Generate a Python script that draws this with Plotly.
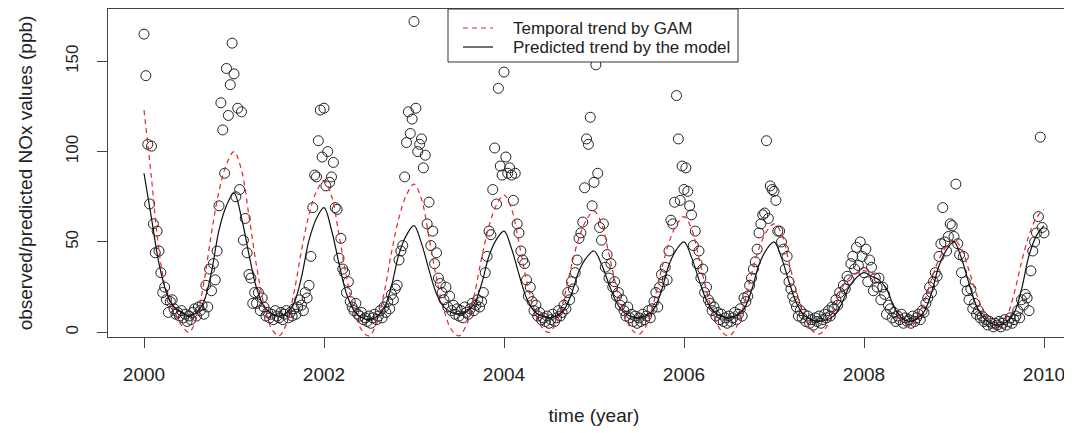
import plotly.graph_objects as go

# ---- observed NOx values (ppb), 48 samples per year ----
obs_2000 = [165, 142, 104, 71, 103, 60, 44, 56, 45, 33, 22, 25,
            18, 11, 17, 18, 13, 10, 11, 9, 12, 8, 10, 6,
            9, 7, 11, 13, 9, 14, 12, 15, 10, 26, 14, 35,
            23, 38, 29, 45, 70, 127, 112, 88, 146, 120, 137, 160]
obs_2001 = [143, 75, 124, 79, 122, 51, 63, 44, 32, 30, 16, 22,
            16, 22, 12, 19, 14, 9, 11, 8, 10, 7, 12, 9,
            8, 11, 7, 10, 12, 8, 11, 9, 13, 10, 14, 18,
            15, 12, 22, 19, 26, 42, 69, 87, 86, 106, 123, 97]
obs_2002 = [124, 81, 100, 83, 86, 94, 69, 68, 41, 52, 35, 33,
            22, 28, 17, 14, 12, 16, 10, 9, 11, 7, 8, 6,
            9, 5, 8, 10, 7, 9, 12, 8, 14, 11, 17, 13,
            21, 18, 24, 26, 40, 45, 48, 86, 105, 122, 110, 118]
obs_2003 = [172, 124, 100, 104, 107, 91, 98, 60, 72, 48, 56, 38,
            44, 30, 27, 22, 18, 25, 14, 20, 12, 15, 10, 13,
            9, 12, 8, 14, 11, 10, 13, 16, 12, 15, 18, 14,
            17, 22, 33, 42, 56, 54, 79, 102, 71, 135, 92, 87]
obs_2004 = [144, 97, 88, 91, 87, 73, 88, 60, 55, 45, 40, 38,
            29, 20, 25, 17, 12, 15, 9, 11, 7, 8, 6, 9,
            5, 7, 10, 6, 8, 12, 9, 11, 15, 13, 22, 18,
            28, 24, 33, 40, 52, 55, 61, 80, 107, 104, 119, 70]
obs_2005 = [83, 148, 88, 58, 51, 60, 36, 43, 30, 38, 25, 28,
            20, 22, 15, 18, 12, 9, 14, 8, 10, 6, 9, 5,
            8, 6, 10, 7, 9, 12, 8, 13, 17, 22, 14, 25,
            32, 28, 36, 29, 45, 62, 60, 72, 131, 107, 73, 92]
obs_2006 = [79, 91, 78, 70, 65, 48, 56, 38, 45, 30, 35, 22,
            25, 18, 16, 12, 14, 9, 11, 7, 10, 6, 8, 5,
            9, 6, 8, 11, 7, 10, 13, 9, 19, 17, 20, 26,
            30, 35, 39, 46, 55, 60, 65, 66, 106, 63, 81, 79]
obs_2007 = [78, 73, 56, 56, 50, 46, 35, 42, 28, 24, 20, 17,
            14, 9, 12, 8, 10, 6, 9, 5, 7, 4, 8, 6,
            9, 5, 7, 10, 8, 12, 9, 14, 13, 18, 15, 22,
            20, 26, 24, 31, 29, 38, 42, 35, 47, 37, 50, 42]
obs_2008 = [33, 46, 28, 40, 36, 23, 30, 25, 30, 18, 25, 21,
            10, 15, 13, 8, 11, 6, 9, 7, 10, 5, 8, 6,
            7, 5, 9, 6, 8, 10, 7, 12, 11, 16, 19, 25,
            22, 28, 33, 31, 42, 49, 69, 50, 45, 53, 60, 59]
obs_2009 = [53, 82, 49, 43, 33, 42, 28, 23, 18, 24, 13, 16,
            10, 12, 8, 9, 6, 7, 4, 6, 5, 3, 5, 4,
            6, 3, 5, 7, 4, 6, 8, 5, 7, 9, 12, 8,
            18, 15, 21, 19, 12, 34, 45, 50, 55, 64, 108, 58]
obs_2010 = [55]

observed = (obs_2000 + obs_2001 + obs_2002 + obs_2003 + obs_2004 +
            obs_2005 + obs_2006 + obs_2007 + obs_2008 + obs_2009 + obs_2010)
obs_time = [2000 + i / 48 for i in range(len(observed))]

# ---- monthly trend curves ----
month_time = [2000 + k / 12 for k in range(121)]
gam_trend = [
    123, 85, 45, 22, 12, 4, 0, 8, 28, 55, 78, 93,
    100, 89.8, 64.3, 36.8, 15.3, 2.1, -2, 4.9, 22.1, 45.3, 65.1, 78,
    84, 75.4, 53.9, 30.7, 12.6, 1.4, -2, 4.7, 21.5, 44.2, 63.5, 76.1,
    82, 73.6, 52.6, 29.9, 12.3, 1.4, -2, 4.2, 19.8, 40.9, 58.8, 70.5,
    76, 68.4, 49.4, 28.9, 12.9, 3, 0, 5.4, 18.8, 36.9, 52.3, 62.3,
    67, 60.2, 43.2, 24.8, 10.6, 1.7, -1, 4.2, 17.2, 34.8, 49.7, 59.5,
    64, 57.4, 40.9, 23.1, 9.2, 0.6, -2, 3, 15.4, 32.1, 46.4, 55.7,
    60, 54.8, 38.7, 22.2, 9.4, 1.4, -1, 3, 12, 24, 30, 33,
    34, 33, 29, 24, 14, 7, 3, 6.8, 16.4, 29.4, 40.4, 47.6,
    51, 46.2, 34.2, 21.2, 11.2, 4.9, 3, 8.2, 21.2, 38.8, 53.7, 63.5,
    68]
model_trend = [
    88, 63, 38, 22, 14, 11, 9, 11, 17.2, 33.5, 56.6, 70.2,
    77, 63.4, 43, 24.6, 14.4, 10.4, 9, 10.8, 16.2, 30.6, 51, 63,
    69, 56.6, 38, 21.3, 12, 8.2, 7, 8.6, 13.2, 25.7, 43.4, 53.8,
    59, 49.2, 34.5, 21.3, 13.9, 11, 10, 11.4, 15.5, 26.6, 42.2, 51.4,
    56, 46.4, 32, 19, 11.8, 9, 8, 9.1, 12.4, 21.3, 33.9, 41.3,
    45, 37.6, 26.5, 16.5, 11, 8.7, 8, 9.3, 13, 23.1, 37.4, 45.8,
    50, 41.6, 29, 17.7, 11.4, 8.8, 8, 9.3, 13, 23.1, 37.4, 45.8,
    50, 41.2, 28, 16.1, 9.5, 6.9, 6, 6.8, 9.2, 15.7, 24.9, 30.3,
    33, 31, 29, 24, 14, 8, 6, 7.3, 11.3, 21.8, 36.8, 45.6,
    50, 40.8, 27, 14.6, 7.7, 4.9, 4, 5.7, 10.6, 23.8, 42.5, 53.5,
    59]

x_ticks = [2000, 2002, 2004, 2006, 2008, 2010]
y_ticks = [0, 50, 100, 150]
legend_labels = ["Temporal trend by GAM", "Predicted trend by the model"]

FONT = "Liberation Sans, Arial, Helvetica, sans-serif"
INK = "#222222"
AXIS = "#444444"
RED = "#e3242b"

# the page body has an 8px margin; figure pixel = page pixel - 8
OFF = 8
L, R, T, B = 108 - OFF, 1072, 9 - OFF, 337 - OFF   # figure pixels
def px(x_page):
    return (x_page - OFF - L) / (R - L)
def py(y_page):
    return (B - (y_page - OFF)) / (B - T)

fig = go.Figure()
fig.add_trace(go.Scatter(
    x=obs_time, y=observed, mode="markers", name="observed",
    marker=dict(symbol="circle-open", size=10, color=INK, line=dict(width=1)),
    showlegend=False))
fig.add_trace(go.Scatter(
    x=month_time, y=gam_trend, mode="lines", name=legend_labels[0],
    line=dict(color=RED, width=1.2, dash="5px,4px", shape="spline"),
    showlegend=False))
fig.add_trace(go.Scatter(
    x=month_time, y=model_trend, mode="lines", name=legend_labels[1],
    line=dict(color="#111111", width=1.2, shape="spline"),
    showlegend=False))

# legend box drawn R-style
shapes = [
    dict(type="rect", xref="paper", yref="paper",
         x0=px(448), x1=px(738), y0=py(62), y1=py(9),
         line=dict(color="#333333", width=1), fillcolor="white", layer="above"),
    dict(type="line", xref="paper", yref="paper",
         x0=px(463), x1=px(493), y0=py(28), y1=py(28),
         line=dict(color=RED, width=1.2, dash="5px,4px"), layer="above"),
    dict(type="line", xref="paper", yref="paper",
         x0=px(463), x1=px(493), y0=py(47), y1=py(47),
         line=dict(color="#111111", width=1.2), layer="above"),
]
annotations = [
    dict(xref="paper", yref="paper", x=px(511), y=py(28), text=legend_labels[0],
         showarrow=False, xanchor="left", yanchor="middle",
         font=dict(size=17, color=INK)),
    dict(xref="paper", yref="paper", x=px(511), y=py(47), text=legend_labels[1],
         showarrow=False, xanchor="left", yanchor="middle",
         font=dict(size=17, color=INK)),
]

fig.update_layout(
    width=1072, height=433,
    margin=dict(l=L, r=1072 - R, t=T, b=433 - B),
    paper_bgcolor="white", plot_bgcolor="white",
    font=dict(family=FONT, color=INK),
    showlegend=False,
    xaxis=dict(range=[1999.6, 2010.4], tickvals=x_ticks, automargin=False,
               ticks="outside", ticklen=10, tickcolor=AXIS, tickwidth=1,
               showline=True, linecolor=AXIS, linewidth=1.3, mirror=True,
               showgrid=False, zeroline=False,
               tickfont=dict(size=19), ticklabelstandoff=10,
               title=dict(text="time (year)", font=dict(size=19), standoff=24)),
    yaxis=dict(range=[-2.6, 178.9], tickvals=y_ticks, automargin=False,
               ticks="outside", ticklen=10, tickcolor=AXIS, tickwidth=1,
               showline=True, linecolor=AXIS, linewidth=1.3,
               showgrid=False, zeroline=False,
               tickangle=-90, tickfont=dict(size=17), ticklabelstandoff=12,
               title=dict(text="observed/predicted NOx values (ppb)",
                          font=dict(size=19), standoff=25)),
    shapes=shapes,
    annotations=annotations,
)

fig.write_html("out.html")
